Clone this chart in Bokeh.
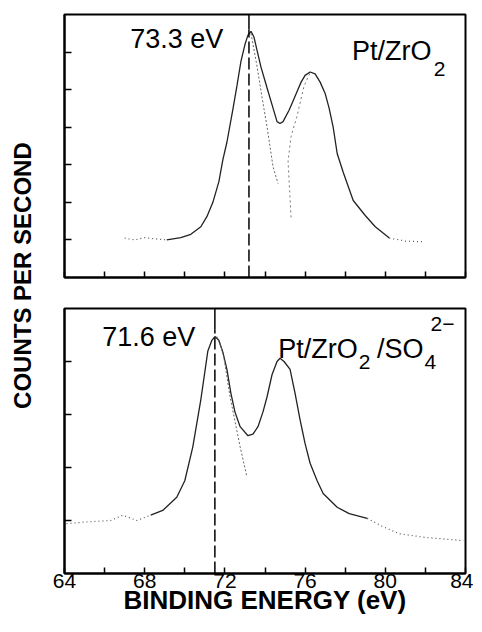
from bokeh.plotting import figure
from bokeh.layouts import row, column
from bokeh.models import FixedTicker, Range1d, CustomLabelingPolicy
from bokeh.embed import file_html
from bokeh.resources import INLINE
from bokeh.core.properties import value
import math

FONT = "Liberation Sans"

# ---------------- data ----------------
x_ticks_major = [64, 68, 72, 76, 80, 84]
x_ticks_minor = [66, 70, 74, 78, 82]
top_yticks = [1, 2, 3, 4, 5, 6]
bot_yticks = [1, 2, 3, 4]

# Pt/ZrO2 envelope
top_x = [67.0, 67.5, 68.0, 68.5, 69.1, 69.8, 70.3, 70.8, 71.1, 71.4, 71.7, 71.9, 72.1, 72.4,
         72.6, 72.8, 73.0, 73.15, 73.3, 73.45, 73.6, 73.8, 74.1, 74.35, 74.6, 74.75, 74.9,
         75.2, 75.4, 75.6, 75.8, 76.0, 76.25, 76.5, 76.75, 77.0, 77.2, 77.4, 77.6, 77.9,
         78.4, 79.0, 79.5, 80.2, 81.0, 81.9]
top_y = [1.05, 1.0, 1.06, 1.03, 1.0, 1.06, 1.15, 1.35, 1.62, 2.0, 2.55, 3.14, 3.6, 4.48,
         5.1, 5.75, 6.2, 6.45, 6.55, 6.4, 6.05, 5.6, 5.05, 4.6, 4.15, 4.1, 4.15,
         4.45, 4.7, 4.95, 5.2, 5.38, 5.47, 5.42, 5.2, 4.9, 4.5, 4.0, 3.3, 2.8,
         2.05, 1.65, 1.35, 1.05, 0.97, 0.95]
# fitted components (dotted)
top_c1_x = [73.3, 73.6, 73.85, 74.1, 74.4, 74.65]
top_c1_y = [6.5, 5.63, 4.8, 4.02, 2.95, 2.5]
top_c2_x = [75.3, 75.15, 75.3, 75.6, 75.95, 76.25]
top_c2_y = [1.6, 3.1, 3.75, 4.3, 5.1, 5.45]

# Pt/ZrO2/SO4 envelope
bot_x = [64.1, 65.0, 66.3, 66.9, 67.6, 68.3, 68.9, 69.6, 70.0, 70.4, 70.8, 71.15, 71.35,
         71.5, 71.7, 71.9, 72.1, 72.3, 72.5, 72.76, 73.15, 73.4, 73.65, 73.9, 74.1, 74.35,
         74.6, 74.75, 74.95, 75.25, 75.5, 75.75, 76.0, 76.25, 76.6, 76.9, 77.6, 78.2,
         79.1, 79.8, 80.7, 82.0, 83.9]
bot_y = [0.94, 0.97, 1.0, 1.1, 1.0, 1.1, 1.19, 1.44, 1.75, 2.39, 3.28, 4.2, 4.4,
         4.47, 4.4, 4.17, 3.85, 3.4, 3.05, 2.77, 2.6, 2.63, 2.77, 3.05, 3.33, 3.75,
         4.0, 4.06, 4.0, 3.85, 3.4, 2.9, 2.45, 2.08, 1.75, 1.51, 1.25, 1.13,
         1.04, 0.9, 0.75, 0.68, 0.62]
bot_c1_x = [71.6, 71.91, 72.26, 72.76, 73.1]
bot_c1_y = [4.47, 4.17, 3.33, 2.39, 1.82]

top_line_x = 73.2
bot_line_x = 71.5

HIDE = "for (const i of indices) { indices.unset(i) }\nreturn indices"


def style(p, yticks, show_labels):
    p.outline_line_color = "black"
    p.outline_line_width = 2
    p.xgrid.visible = False
    p.ygrid.visible = False
    p.background_fill_color = "white"
    p.border_fill_color = "white"
    for ax in p.xaxis:
        ax.ticker = FixedTicker(ticks=x_ticks_major, minor_ticks=x_ticks_minor)
        ax.major_tick_in = 6
        ax.major_tick_out = 0
        ax.minor_tick_in = 6
        ax.minor_tick_out = 0
        ax.major_tick_line_width = 1.5
        ax.minor_tick_line_width = 1.5
        ax.axis_line_width = 2
        ax.major_label_text_font = FONT
        ax.major_label_text_color = "black"
        if show_labels:
            ax.major_label_text_font_size = "21px"
            ax.major_label_standoff = 0
            ax.axis_label = "BINDING ENERGY (eV)"
            ax.axis_label_text_font = FONT
            ax.axis_label_text_font_size = "26px"
            ax.axis_label_text_font_style = "bold"
            ax.axis_label_text_color = "black"
            ax.axis_label_standoff = -6
        else:
            ax.major_label_text_font_size = "2px"
            ax.major_label_policy = CustomLabelingPolicy(code=HIDE)
            ax.major_label_standoff = 0
    for ax in p.yaxis:
        ax.ticker = FixedTicker(ticks=yticks, minor_ticks=[])
        ax.major_tick_in = 7
        ax.major_tick_out = 0
        ax.major_tick_line_width = 1.5
        ax.axis_line_width = 2
        ax.major_label_text_font_size = "2px"
        ax.major_label_policy = CustomLabelingPolicy(code=HIDE)
        ax.major_label_standoff = 0


def txt(p, x, y, s, size, align):
    p.text(x=[x], y=[y], text=[s], text_font=value(FONT), text_font_size=size,
           text_align=align, text_baseline="alphabetic", text_color="black")


# ---------------- top panel ----------------
p1 = figure(frame_width=401, frame_height=263, x_range=Range1d(64, 84), y_range=Range1d(0, 7),
            output_backend="svg", toolbar_location=None,
            min_border_left=16, min_border_right=8, min_border_top=14, min_border_bottom=10)
style(p1, top_yticks, False)

n_l = 4
n_r = 43
p1.line(top_x[:n_l + 1], top_y[:n_l + 1], line_color="#555555", line_width=1.2, line_dash="1 3")
p1.line(top_x[n_l:n_r + 1], top_y[n_l:n_r + 1], line_color="#222222", line_width=1.3)
p1.line(top_x[n_r:], top_y[n_r:], line_color="#555555", line_width=1.2, line_dash="1 3")
p1.line(top_c1_x, top_c1_y, line_color="#666666", line_width=1, line_dash="2 2")
p1.line(top_c2_x, top_c2_y, line_color="#777777", line_width=1, line_dash="2 3")
p1.segment(x0=[top_line_x], y0=[6.6], x1=[top_line_x], y1=[7], line_color="black", line_width=1.5)
p1.segment(x0=[top_line_x], y0=[0], x1=[top_line_x], y1=[6.6], line_color="black",
           line_width=1.5, line_dash="12 4")

txt(p1, 69.6, 6.35, "73.3 eV", "27px", "center")
txt(p1, 82.3, 6.03, "Pt/ZrO", "27px", "right")
txt(p1, 82.42, 5.55, "2", "21px", "left")

# ---------------- bottom panel ----------------
p2 = figure(frame_width=401, frame_height=265, x_range=Range1d(64, 84), y_range=Range1d(0, 5),
            output_backend="svg", toolbar_location=None,
            min_border_left=16, min_border_right=8, min_border_top=21, min_border_bottom=40)
style(p2, bot_yticks, True)

b_l = 5
b_r = 38
p2.line(bot_x[:b_l + 1], bot_y[:b_l + 1], line_color="#555555", line_width=1.2, line_dash="1 3")
p2.line(bot_x[b_l:b_r + 1], bot_y[b_l:b_r + 1], line_color="#222222", line_width=1.3)
p2.line(bot_x[b_r:], bot_y[b_r:], line_color="#555555", line_width=1.2, line_dash="1 3")
p2.line(bot_c1_x, bot_c1_y, line_color="#666666", line_width=1, line_dash="2 2")
p2.segment(x0=[bot_line_x], y0=[4.6], x1=[bot_line_x], y1=[5], line_color="black", line_width=1.5)
p2.segment(x0=[bot_line_x], y0=[0], x1=[bot_line_x], y1=[4.6], line_color="black",
           line_width=1.5, line_dash="12 4")

txt(p2, 68.2, 4.47, "71.6 eV", "27px", "center")
txt(p2, 78.63, 4.23, "Pt/ZrO", "27px", "right")
txt(p2, 78.68, 4.0, "2", "21px", "left")
txt(p2, 81.9, 4.23, "/SO", "27px", "right")
txt(p2, 81.96, 4.0, "4", "21px", "left")
txt(p2, 82.26, 4.7, "2\u2212", "21px", "left")

# ---------------- y label strip ----------------
pl = figure(width=48, height=628, x_range=Range1d(0, 1), y_range=Range1d(0, 1),
            output_backend="svg", toolbar_location=None,
            min_border_left=0, min_border_right=0, min_border_top=0, min_border_bottom=0)
pl.axis.visible = False
pl.grid.visible = False
pl.outline_line_color = None
pl.text(x=[0.45], y=[0.562], text=["COUNTS PER SECOND"], angle=math.pi / 2,
        text_font=value(FONT), text_font_size="24px", text_font_style="bold",
        text_align="center", text_baseline="middle", text_color="black")

layout = row(pl, column(p1, p2))

open("out.html", "w").write(file_html(layout, INLINE))
